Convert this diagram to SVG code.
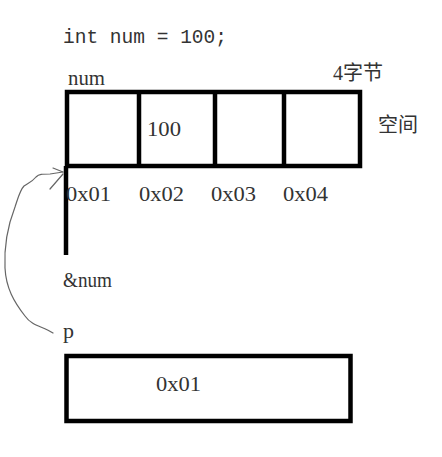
<svg xmlns="http://www.w3.org/2000/svg" width="442" height="457" viewBox="0 0 442 457">
<style>
.t{font-family:"Liberation Serif","Times New Roman",serif;fill:#333;font-size:22px}
.m{font-family:"Liberation Mono","Courier New",monospace;fill:#333;font-size:20px}
.c{font-family:"Liberation Serif","Noto Sans CJK SC",serif;fill:#333;font-size:20px}
.cj{font-family:"Noto Sans CJK SC",sans-serif;fill:#333;font-size:20px}
.box{fill:none;stroke:#000;stroke-width:4.5}
.ln{fill:none;stroke:#000;stroke-width:4.5}
.cv{fill:none;stroke:#666;stroke-width:1.2;stroke-linecap:round;stroke-linejoin:round}
</style>
<rect width="442" height="457" fill="#fff"/>
<text class="m" x="63" y="43" textLength="164" lengthAdjust="spacingAndGlyphs" xml:space="preserve">int num = 100;</text>
<g id="num-block">
<text class="t" x="68" y="85" textLength="37" lengthAdjust="spacingAndGlyphs">num</text>
<rect class="box" x="67" y="92" width="293" height="74"/>
<line class="ln" x1="139" y1="92" x2="139" y2="168"/>
<line class="ln" x1="215" y1="92" x2="215" y2="166"/>
<line class="ln" x1="284" y1="92" x2="284" y2="166"/>
<line class="ln" x1="66" y1="166" x2="66" y2="255"/>
<text class="t" x="147" y="136" textLength="34" lengthAdjust="spacingAndGlyphs">100</text>
<text class="c" x="333" y="80">4<tspan class="cj">字节</tspan></text>
<text class="cj" x="378" y="132">空间</text>
<text class="t" x="66" y="201" textLength="45" lengthAdjust="spacingAndGlyphs">0x01</text>
<text class="t" x="139" y="201" textLength="45" lengthAdjust="spacingAndGlyphs">0x02</text>
<text class="t" x="211" y="201" textLength="45" lengthAdjust="spacingAndGlyphs">0x03</text>
<text class="t" x="283" y="201" textLength="45" lengthAdjust="spacingAndGlyphs">0x04</text>
<text class="t" x="63" y="287" textLength="49" lengthAdjust="spacingAndGlyphs">&amp;num</text>
</g>
<g id="p-block">
<text class="t" x="63" y="338">p</text>
<rect class="box" x="66.5" y="356" width="284" height="65"/>
<text class="t" x="156" y="391" textLength="45" lengthAdjust="spacingAndGlyphs">0x01</text>
</g>
<g id="connectors">
<path class="cv" d="M53,333 C42,326 32,326 25,316 C14,302 6,288 5,268 C4,248 8,225 15,207 C18,198 20,190 24,186 C28,183 32,182 36,177 C39,174 42,174 50,174 L63,172"/>
<path class="cv" d="M50,189 L63,174 M53,168 L63,172"/>
</g>
</svg>
